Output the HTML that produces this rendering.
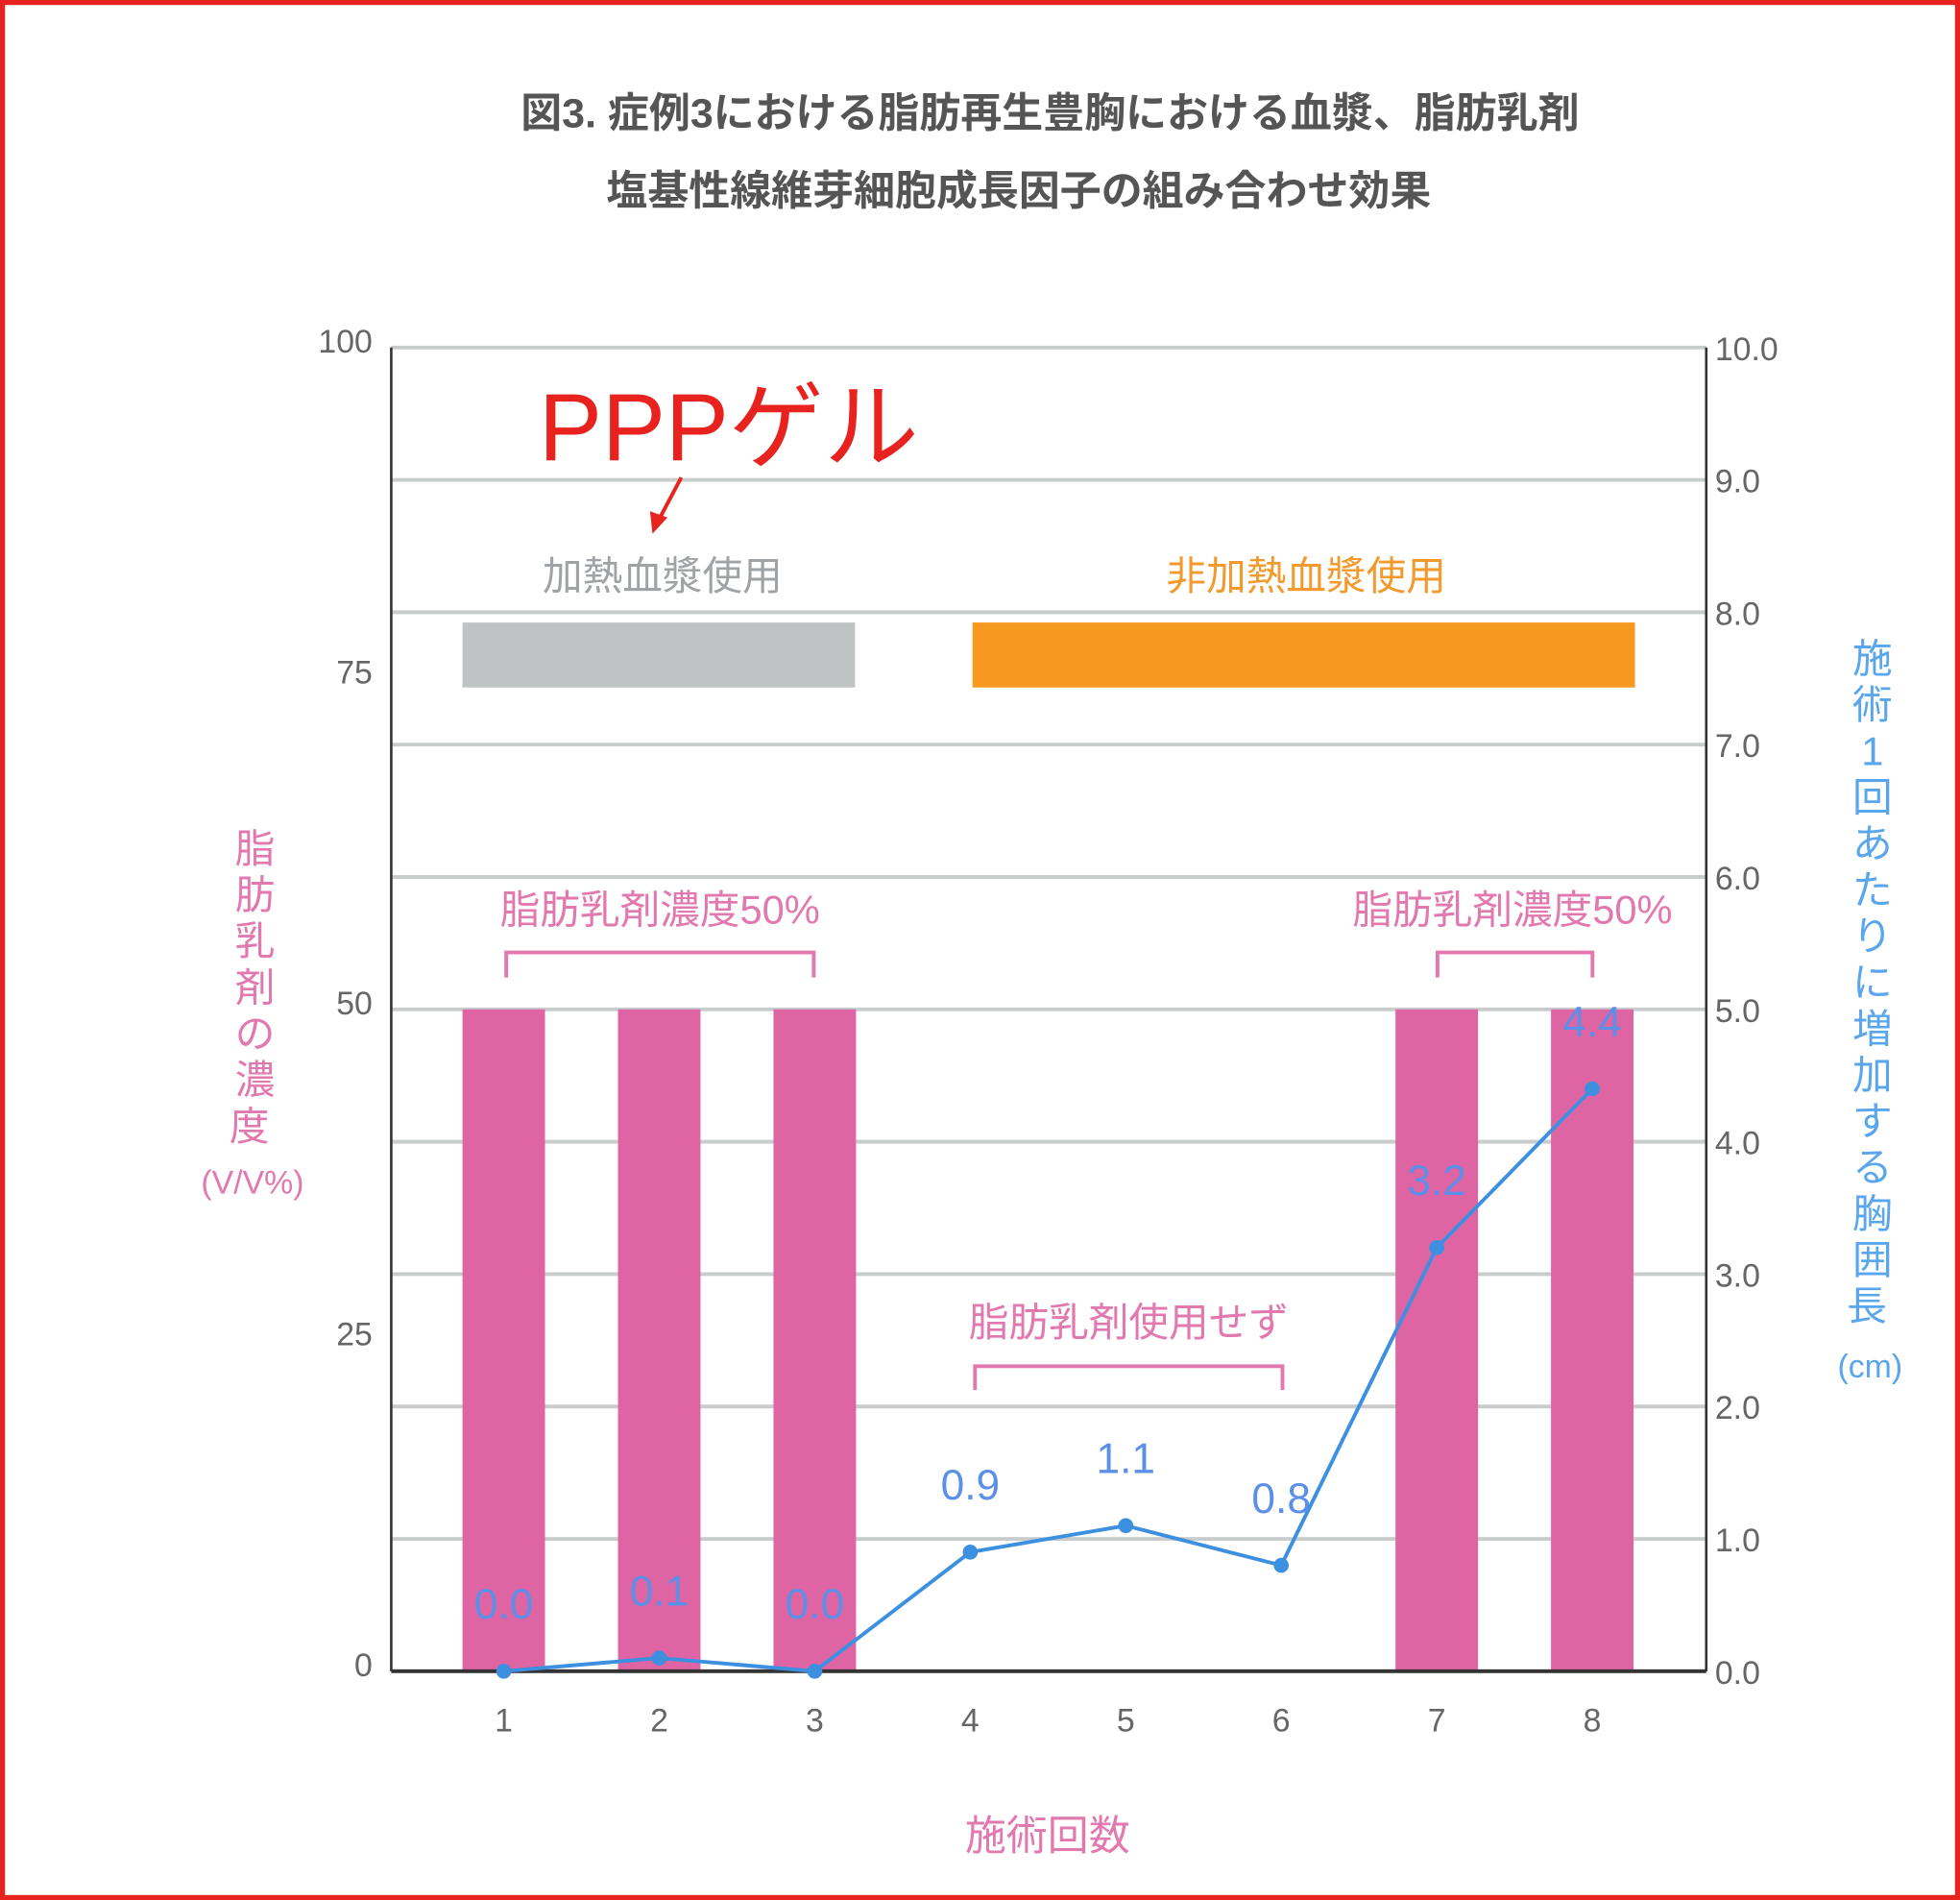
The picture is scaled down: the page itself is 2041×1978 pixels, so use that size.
<!DOCTYPE html>
<html><head><meta charset="utf-8"><style>
html,body{margin:0;padding:0;background:#fff;}
svg{display:block;font-family:"Liberation Sans","Noto Sans CJK JP",sans-serif;}
</style></head><body>
<svg id="chart" width="2041" height="1978" viewBox="0 0 1568 1520" preserveAspectRatio="none" xmlns="http://www.w3.org/2000/svg">
<rect x="2" y="2" width="1564" height="1516" fill="#fff" stroke="#e8231f" stroke-width="4"/>
<text x="840" y="102" text-anchor="middle" font-size="33" font-weight="bold" fill="#555">図3. 症例3における脂肪再生豊胸における血漿、脂肪乳剤</text>
<text x="815" y="164" text-anchor="middle" font-size="33" font-weight="bold" fill="#555">塩基性線維芽細胞成長因子の組み合わせ効果</text>
<g id="grid"></g>
<g id="bars"></g>
<rect x="370" y="498" width="314" height="52" fill="#c0c3c4"/>
<rect x="778" y="498" width="530" height="52" fill="#f7991f"/>
<text x="530" y="472" text-anchor="middle" font-size="32" fill="#a0a3a5">加熱血漿使用</text>
<text x="1045" y="472" text-anchor="middle" font-size="32" fill="#f29a2e">非加熱血漿使用</text>
<text x="583" y="368" text-anchor="middle" font-size="76" fill="#e8231f">PPPゲル</text>
<line x1="545" y1="382" x2="527" y2="416" stroke="#e8231f" stroke-width="3"/>
<polygon points="522,427 520,409 534,414" fill="#e8231f"/>
<g fill="none" stroke="#e279ae" stroke-width="3">
<path d="M405,782 V762 H651 V782"/>
<path d="M1150,782 V762 H1274 V782"/>
<path d="M780,1112 V1093 H1026 V1112"/>
</g>
<text x="528" y="739" text-anchor="middle" font-size="32" fill="#e279ae">脂肪乳剤濃度50%</text>
<text x="1210" y="739" text-anchor="middle" font-size="32" fill="#e279ae">脂肪乳剤濃度50%</text>
<text x="903" y="1069" text-anchor="middle" font-size="32" fill="#e279ae">脂肪乳剤使用せず</text>
<g id="axes"></g>
<g id="line"></g>
<text font-size="32" fill="#e279ae" text-anchor="middle">
<tspan x="204" y="690">脂</tspan><tspan x="204" y="727">肪</tspan><tspan x="204" y="764">乳</tspan><tspan x="204" y="801">剤</tspan><tspan x="204" y="838">の</tspan><tspan x="204" y="875">濃</tspan><tspan x="204" y="912">度</tspan>
<tspan x="202" y="955" font-size="26">(V/V%)</tspan></text>
<text font-size="32" fill="#5aa6ec" text-anchor="middle">
<tspan x="1498" y="538">施</tspan><tspan x="1498" y="575">術</tspan><tspan x="1498" y="612">1</tspan><tspan x="1498" y="649">回</tspan><tspan x="1498" y="686">あ</tspan><tspan x="1498" y="723">た</tspan><tspan x="1498" y="760">り</tspan><tspan x="1498" y="797">に</tspan><tspan x="1498" y="834">増</tspan><tspan x="1498" y="871">加</tspan><tspan x="1498" y="908">す</tspan><tspan x="1498" y="945">る</tspan><tspan x="1498" y="982">胸</tspan><tspan x="1498" y="1019">囲</tspan><tspan x="1498" y="1056">長</tspan>
<tspan x="1496" y="1102" font-size="26">(cm)</tspan></text>
<text x="838" y="1480" text-anchor="middle" font-size="33" fill="#e279ae">施術回数</text>
</svg>
<script>
const categories = ["1","2","3","4","5","6","7","8"];
const emulsionValues = [50,50,50,0,0,0,50,50];
const breastValues = [0.0,0.1,0.0,0.9,1.1,0.8,3.2,4.4];
const leftTicks = [0,25,50,75,100];
const rightTicks = ["0.0","1.0","2.0","3.0","4.0","5.0","6.0","7.0","8.0","9.0","10.0"];
const NS="http://www.w3.org/2000/svg";
const X0=313,X1=1365,Y0=1337,Y1=278;
const xPos=i=>403+i*124.4;
const yL=v=>Y0-(v/100)*(Y0-Y1);
const yR=v=>Y0-(v/10)*(Y0-Y1);
function mk(tag,parent,attrs){const e=document.createElementNS(NS,tag);for(const k in attrs)e.setAttribute(k,attrs[k]);parent.appendChild(e);return e;}
const grid=document.getElementById('grid'),bars=document.getElementById('bars'),axes=document.getElementById('axes'),line=document.getElementById('line');
rightTicks.forEach(t=>{const y=yR(parseFloat(t));
 const g=mk('line',grid,{x1:X0,x2:X1,y1:y,y2:y,stroke:'#c9cccd','stroke-width':3});
 
 
 const tx=mk('text',axes,{x:1372,y:y+10,'font-size':26,fill:'#666'});tx.textContent=t;
 
 
});
leftTicks.forEach(t=>{const y=yL(t);
 const tx=mk('text',axes,{x:298,y:y+4,'font-size':26,fill:'#666','text-anchor':'end'});tx.textContent=t;
 
 
});
categories.forEach((c,i)=>{const v=emulsionValues[i];
 if(v>0){const b=mk('rect',bars,{x:xPos(i)-33,y:yL(v),width:66,height:Y0-yL(v),fill:'#de64a4'});
 
 }
 const tx=mk('text',axes,{x:xPos(i),y:1385,'font-size':26,fill:'#666','text-anchor':'middle'});tx.textContent=c;
 
 
});
mk('line',axes,{x1:X0,x2:X0,y1:Y1,y2:Y0,stroke:'#333','stroke-width':2});
mk('line',axes,{x1:X1,x2:X1,y1:Y1,y2:Y0,stroke:'#333','stroke-width':2});
const base=mk('line',axes,{x1:X0,x2:X1,y1:Y0,y2:Y0,stroke:'#333','stroke-width':3});


const pts=breastValues.map((v,i)=>xPos(i)+','+yR(v)).join(' ');
const pl=mk('polyline',line,{points:pts,fill:'none',stroke:'#3d8fe0','stroke-width':3});


breastValues.forEach((v,i)=>{
 const p=mk('circle',line,{cx:xPos(i),cy:yR(v),r:6,fill:'#3d8fe0'});
 
 
 const ly=(v<0.5)?yR(v)-42:yR(v)-42;
 const tx=mk('text',line,{x:xPos(i),y:ly,'font-size':34,fill:'#5b8fe8','text-anchor':'middle'});tx.textContent=v.toFixed(1);
 
 
});
</script>
</body></html>
